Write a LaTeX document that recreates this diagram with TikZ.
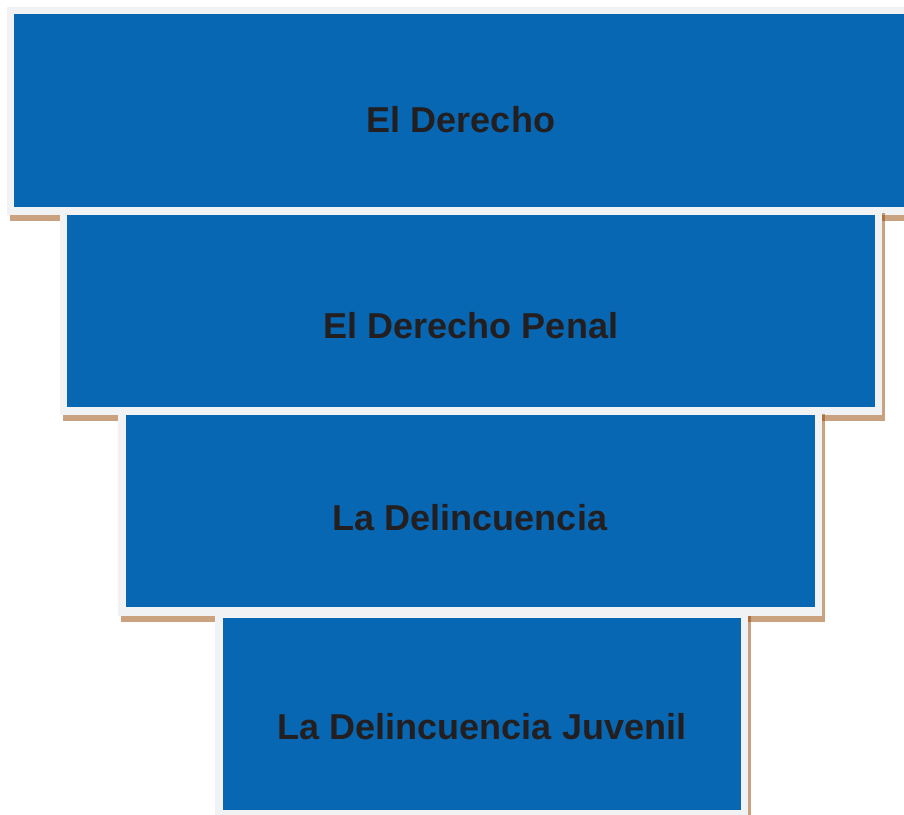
\documentclass[tikz,border=0pt]{standalone}
\usepackage{fontspec}
\setmainfont{Liberation Sans}
\definecolor{boxblue}{RGB}{7,103,178}
\definecolor{framegray}{RGB}{241,242,244}
\definecolor{shadowbrown}{RGB}{150,70,0}
\definecolor{txt}{RGB}{35,31,32}
\tikzset{
  shadowrect/.style={fill=shadowbrown, fill opacity=0.5},
  framerect/.style={fill=framegray},
  bluerect/.style={fill=boxblue},
  label/.style={anchor=base, text=txt, font=\fontsize{36}{40}\selectfont\bfseries, inner sep=0pt}
}
\begin{document}
\begin{tikzpicture}[x=1pt,y=-1pt]
\path[use as bounding box] (0,0) rectangle (904,814);
\clip (0,0) rectangle (904,814);
\fill[white] (0,0) rectangle (904,814);
% box 1
\fill[shadowrect] (10,13) rectangle (918,221);
\fill[framerect] (7,7) rectangle (915,215);
\fill[bluerect] (14,14) rectangle (908,207);
\node[label] (t1) at (461,132) {El Derecho};
% box 2
\fill[shadowrect] (63,213) rectangle (885,421);
\fill[framerect] (60,207) rectangle (882,415);
\fill[bluerect] (67,215) rectangle (875,407);
\node[label] (t2) at (471,338) {El Derecho Penal};
% box 3
\fill[shadowrect] (121,414) rectangle (825,622);
\fill[framerect] (118,408) rectangle (822,616);
\fill[bluerect] (126,415) rectangle (815,607);
\node[label] (t3) at (470,530) {La Delincuencia};
% box 4
\fill[shadowrect] (218,616) rectangle (751,824);
\fill[framerect] (215,610) rectangle (748,818);
\fill[bluerect] (223,618) rectangle (741,810);
\node[label] (t4) at (482,739) {La Delincuencia Juvenil};
\end{tikzpicture}
\end{document}
